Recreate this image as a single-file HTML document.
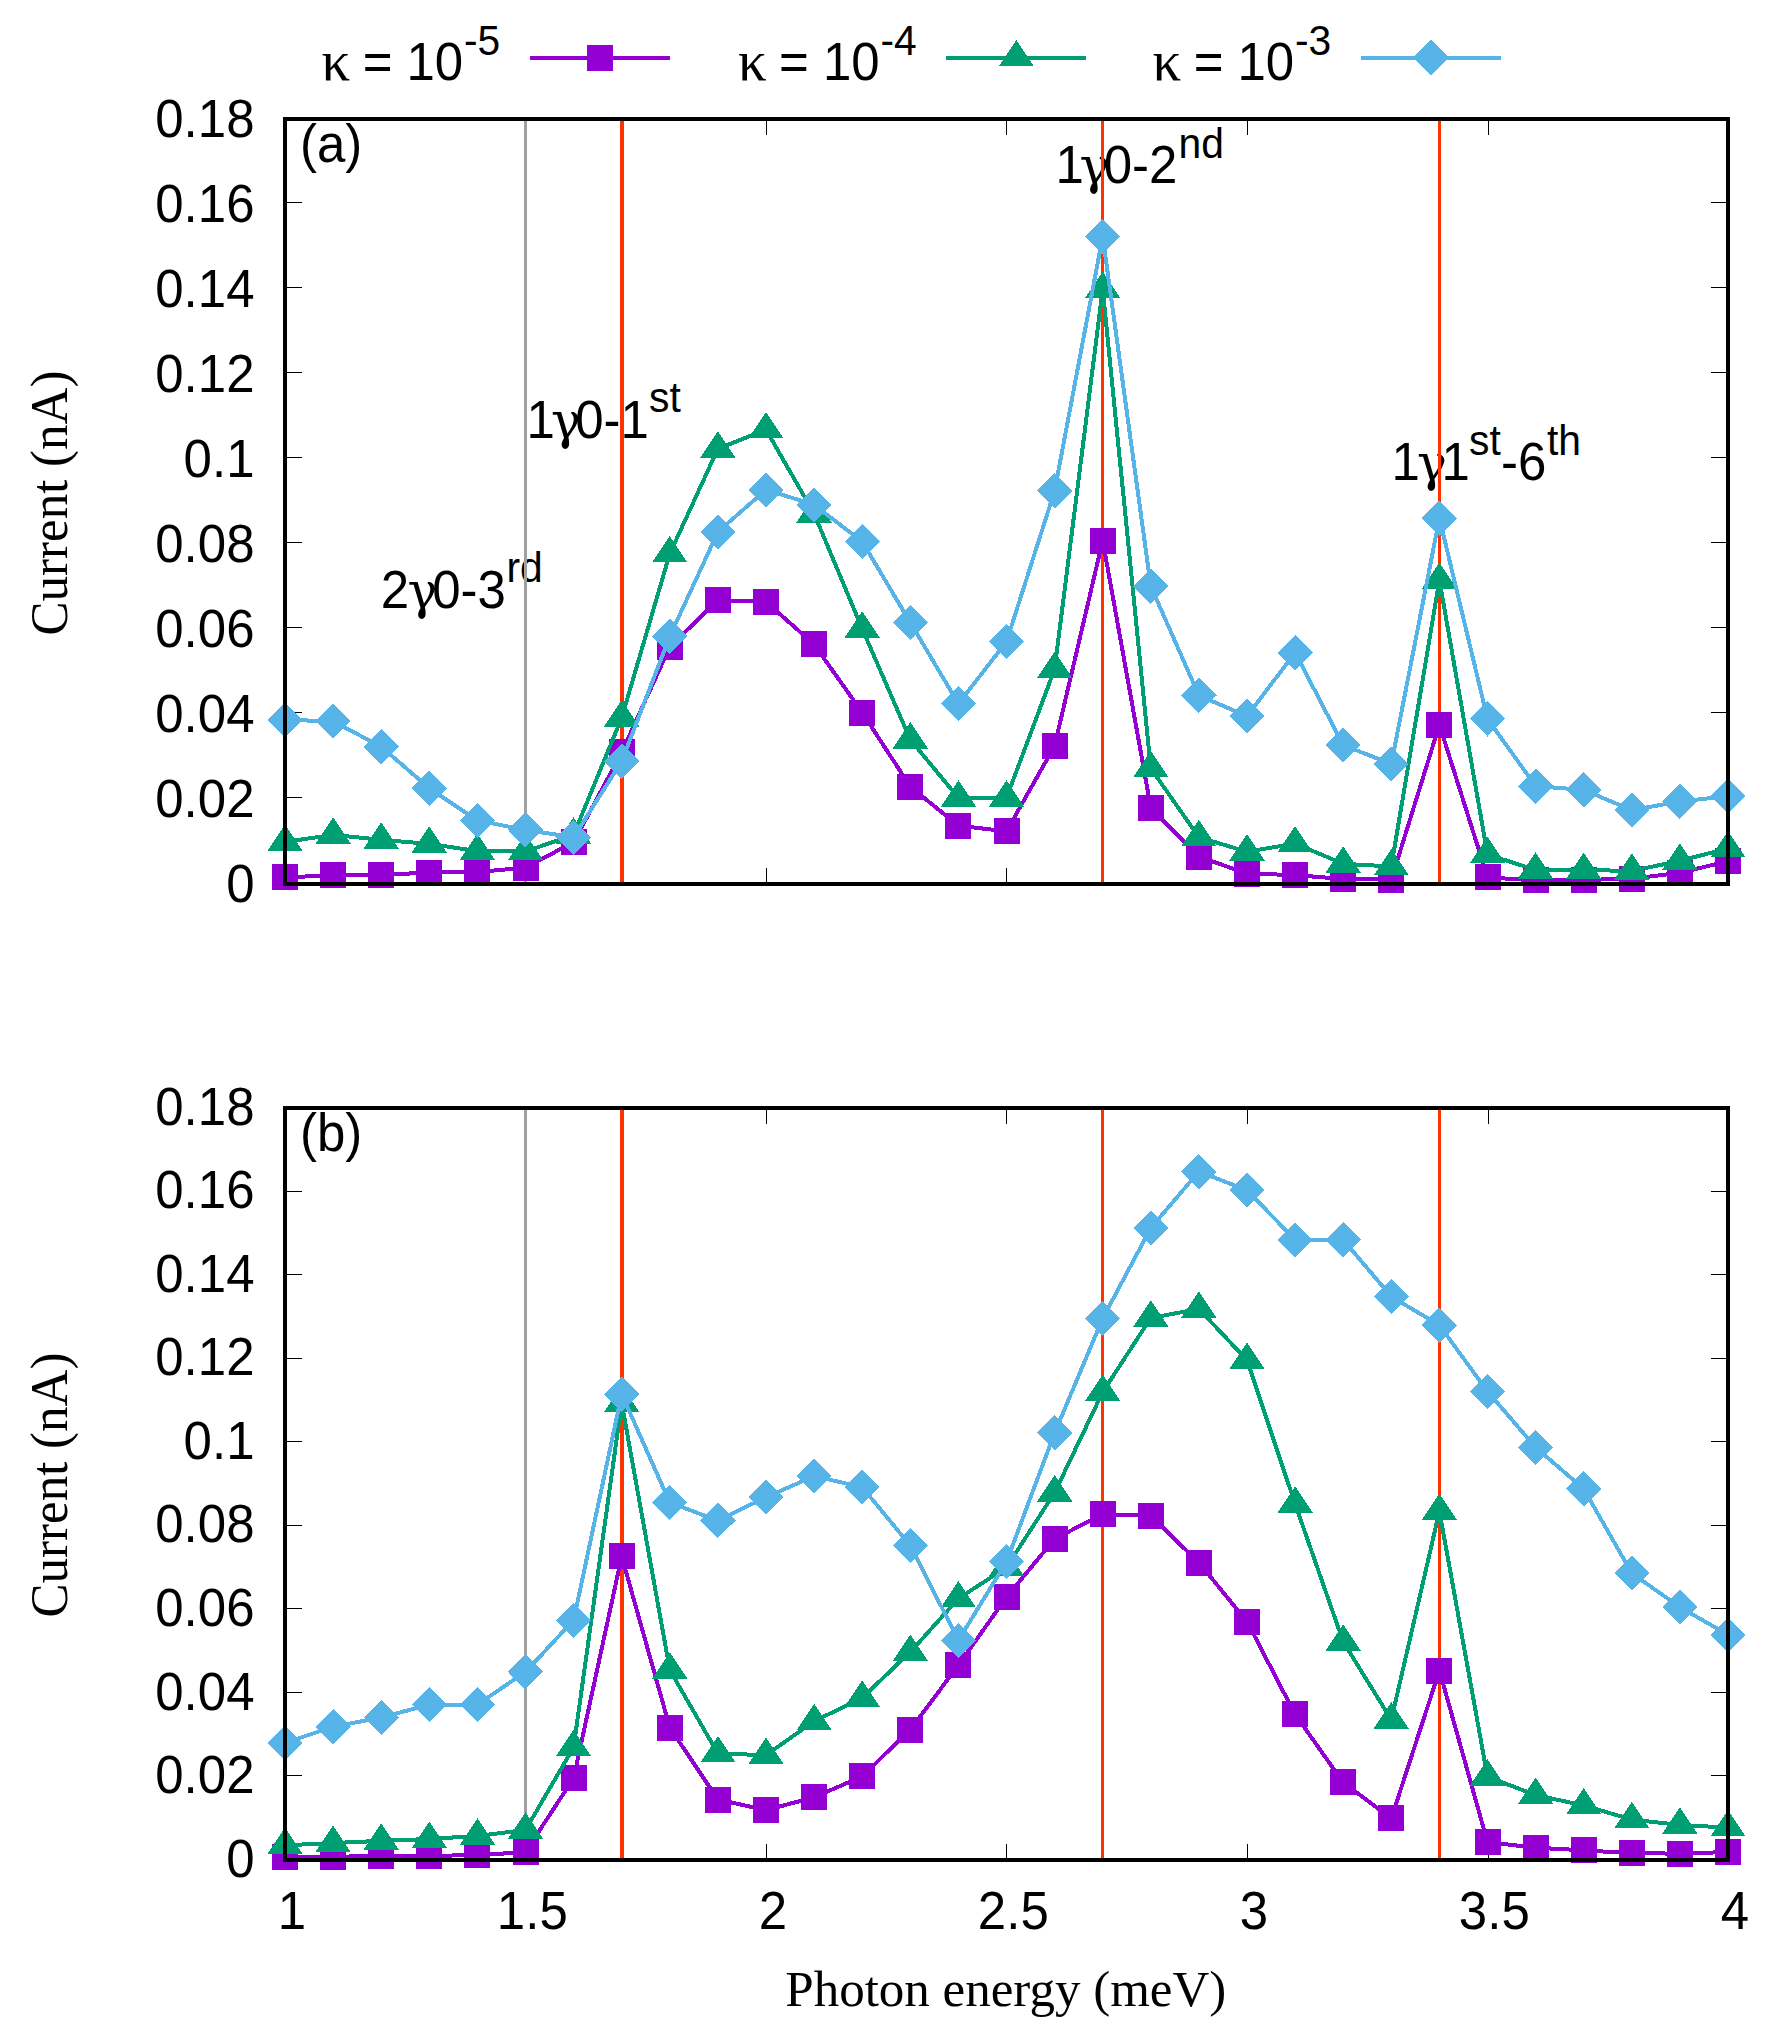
<!DOCTYPE html>
<html lang="en"><head><meta charset="utf-8"><title>Current vs photon energy</title>
<style>
html,body{margin:0;padding:0;background:#fff}
body{width:1780px;height:2040px;overflow:hidden}
svg{display:block}
text{fill:#000}
.sans{font-family:"Liberation Sans",Arial,Helvetica,sans-serif}
.kap{font-family:"Liberation Serif","DejaVu Serif",serif}
.serif{font-family:"Liberation Serif","Times New Roman",Times,serif}
.sym{font-family:"DejaVu Serif","Liberation Serif",serif}
</style></head><body>
<svg width="1780" height="2040" viewBox="0 0 1780 2040" shape-rendering="crispEdges">
<rect width="1780" height="2040" fill="#fff"/>
<text class="sans" transform="translate(380.7 608.4) scale(1 1.035)" style="font-size:51px">2</text><text class="sym" transform="translate(407.5 608.4) scale(1 1)" style="font-size:50px">γ</text><text class="sans" transform="translate(432.2 608.4) scale(1 1.035)" style="font-size:51px">0-3</text><text class="sans" transform="translate(506.5 582) scale(1 1.035)" style="font-size:40.8px">rd</text>
<text class="sans" transform="translate(526.5 437.9) scale(1 1.035)" style="font-size:51px">1</text><text class="sym" transform="translate(551 437.9) scale(1 1)" style="font-size:50px">γ</text><text class="sans" transform="translate(575.2 437.9) scale(1 1.035)" style="font-size:51px">0-1</text><text class="sans" transform="translate(649 412.4) scale(1 1.035)" style="font-size:40.8px">st</text>
<text class="sans" transform="translate(1055.5 182.9) scale(1 1.035)" style="font-size:51px">1</text><text class="sym" transform="translate(1079.5 182.9) scale(1 1)" style="font-size:50px">γ</text><text class="sans" transform="translate(1103.7 182.9) scale(1 1.035)" style="font-size:51px">0-2</text><text class="sans" transform="translate(1178.5 158) scale(1 1.035)" style="font-size:40.8px">nd</text>
<text class="sans" transform="translate(1391.5 479.8) scale(1 1.035)" style="font-size:51px">1</text><text class="sym" transform="translate(1417 479.8) scale(1 1)" style="font-size:50px">γ</text><text class="sans" transform="translate(1441.5 479.8) scale(1 1.035)" style="font-size:51px">1</text><text class="sans" transform="translate(1469 455.3) scale(1 1.035)" style="font-size:40.8px">st</text><text class="sans" transform="translate(1501 479.8) scale(1 1.035)" style="font-size:51px">-6</text><text class="sans" transform="translate(1547 455.3) scale(1 1.035)" style="font-size:40.8px">th</text>
<text class="sans" transform="translate(300 161.5) scale(1 1.035)" style="font-size:51px">(a)</text>
<g stroke="#000" stroke-width="1" fill="none"><path d="M285 797.5h17 M1728 797.5h-17"/><path d="M285 712.5h17 M1728 712.5h-17"/><path d="M285 627.5h17 M1728 627.5h-17"/><path d="M285 542.5h17 M1728 542.5h-17"/><path d="M285 457.5h17 M1728 457.5h-17"/><path d="M285 372.5h17 M1728 372.5h-17"/><path d="M285 287.5h17 M1728 287.5h-17"/><path d="M285 202.5h17 M1728 202.5h-17"/><path d="M526.5 884v-16 M526.5 119v16"/><path d="M766.5 884v-16 M766.5 119v16"/><path d="M1006.5 884v-16 M1006.5 119v16"/><path d="M1247.5 884v-16 M1247.5 119v16"/><path d="M1488.5 884v-16 M1488.5 119v16"/></g>
<g stroke="none"><rect x="524" y="119" width="3" height="765" fill="#a0a0a0"/><rect x="620" y="119" width="4" height="765" fill="#ff3300"/><rect x="1101" y="119" width="3" height="765" fill="#ff3300"/><rect x="1438" y="119" width="3" height="765" fill="#ff3300"/></g>
<g fill="#9400d3" stroke="none"><polyline points="285,877.3 333.1,875.4 381.2,874.8 429.3,872.6 477.4,872.1 525.5,867.6 573.6,842.2 621.7,752.4 669.8,646.7 717.9,600.4 766,601.8 814.1,644.4 862.2,712.5 910.3,786.7 958.4,825.7 1006.5,831.3 1054.6,745.9 1102.7,540.5 1150.8,807.8 1198.9,856.7 1247,873.5 1295.1,875.1 1343.2,879 1391.3,879.7 1439.4,724.8 1487.5,877.4 1535.6,880.4 1583.7,879.9 1631.8,878.8 1679.9,872.8 1728,861.2" fill="none" stroke="#9400d3" stroke-width="4" stroke-linejoin="miter"/><rect x="272" y="864.3" width="26" height="26"/><rect x="320.1" y="862.4" width="26" height="26"/><rect x="368.2" y="861.8" width="26" height="26"/><rect x="416.3" y="859.6" width="26" height="26"/><rect x="464.4" y="859.1" width="26" height="26"/><rect x="512.5" y="854.6" width="26" height="26"/><rect x="560.6" y="829.2" width="26" height="26"/><rect x="608.7" y="739.4" width="26" height="26"/><rect x="656.8" y="633.7" width="26" height="26"/><rect x="704.9" y="587.4" width="26" height="26"/><rect x="753" y="588.8" width="26" height="26"/><rect x="801.1" y="631.4" width="26" height="26"/><rect x="849.2" y="699.5" width="26" height="26"/><rect x="897.3" y="773.7" width="26" height="26"/><rect x="945.4" y="812.7" width="26" height="26"/><rect x="993.5" y="818.3" width="26" height="26"/><rect x="1041.6" y="732.9" width="26" height="26"/><rect x="1089.7" y="527.5" width="26" height="26"/><rect x="1137.8" y="794.8" width="26" height="26"/><rect x="1185.9" y="843.7" width="26" height="26"/><rect x="1234" y="860.5" width="26" height="26"/><rect x="1282.1" y="862.1" width="26" height="26"/><rect x="1330.2" y="866" width="26" height="26"/><rect x="1378.3" y="866.7" width="26" height="26"/><rect x="1426.4" y="711.8" width="26" height="26"/><rect x="1474.5" y="864.4" width="26" height="26"/><rect x="1522.6" y="867.4" width="26" height="26"/><rect x="1570.7" y="866.9" width="26" height="26"/><rect x="1618.8" y="865.8" width="26" height="26"/><rect x="1666.9" y="859.8" width="26" height="26"/><rect x="1715" y="848.2" width="26" height="26"/></g>
<g fill="#009e73" stroke="none"><polyline points="285,841.9 333.1,834.9 381.2,839.8 429.3,843.9 477.4,851.1 525.5,851.5 573.6,834.8 621.7,717.8 669.8,553.6 717.9,448.8 766,429.6 814.1,513.7 862.2,628.7 910.3,739.7 958.4,797.8 1006.5,797.8 1054.6,669.2 1102.7,289 1150.8,768.4 1198.9,837.2 1247,851.8 1295.1,843.5 1343.2,863.8 1391.3,866.5 1439.4,580.1 1487.5,854.5 1535.6,869.9 1583.7,869.9 1631.8,871 1679.9,860.8 1728,848.4" fill="none" stroke="#009e73" stroke-width="4" stroke-linejoin="miter"/><path d="M285 824.3L267.4 850.7H302.6Z"/><path d="M333.1 817.3L315.5 843.7H350.7Z"/><path d="M381.2 822.2L363.6 848.6H398.8Z"/><path d="M429.3 826.3L411.7 852.7H446.9Z"/><path d="M477.4 833.5L459.8 859.9H495Z"/><path d="M525.5 833.9L507.9 860.3H543.1Z"/><path d="M573.6 817.2L556 843.6H591.2Z"/><path d="M621.7 700.2L604.1 726.6H639.3Z"/><path d="M669.8 536L652.2 562.4H687.4Z"/><path d="M717.9 431.2L700.3 457.6H735.5Z"/><path d="M766 412L748.4 438.4H783.6Z"/><path d="M814.1 496.1L796.5 522.5H831.7Z"/><path d="M862.2 611.1L844.6 637.5H879.8Z"/><path d="M910.3 722.1L892.7 748.5H927.9Z"/><path d="M958.4 780.2L940.8 806.6H976Z"/><path d="M1006.5 780.2L988.9 806.6H1024.1Z"/><path d="M1054.6 651.6L1037 678H1072.2Z"/><path d="M1102.7 271.4L1085.1 297.8H1120.3Z"/><path d="M1150.8 750.8L1133.2 777.2H1168.4Z"/><path d="M1198.9 819.6L1181.3 846H1216.5Z"/><path d="M1247 834.2L1229.4 860.6H1264.6Z"/><path d="M1295.1 825.9L1277.5 852.3H1312.7Z"/><path d="M1343.2 846.2L1325.6 872.6H1360.8Z"/><path d="M1391.3 848.9L1373.7 875.3H1408.9Z"/><path d="M1439.4 562.5L1421.8 588.9H1457Z"/><path d="M1487.5 836.9L1469.9 863.3H1505.1Z"/><path d="M1535.6 852.3L1518 878.7H1553.2Z"/><path d="M1583.7 852.3L1566.1 878.7H1601.3Z"/><path d="M1631.8 853.4L1614.2 879.8H1649.4Z"/><path d="M1679.9 843.2L1662.3 869.6H1697.5Z"/><path d="M1728 830.8L1710.4 857.2H1745.6Z"/></g>
<g fill="#56b4e9" stroke="none"><polyline points="285,719.8 333.1,721.3 381.2,746.7 429.3,788.3 477.4,820.4 525.5,829.9 573.6,837.3 621.7,761.3 669.8,636.3 717.9,531.9 766,489.7 814.1,504.8 862.2,541.6 910.3,622.5 958.4,703.7 1006.5,641.7 1054.6,491 1102.7,236.4 1150.8,586.3 1198.9,695.5 1247,716.2 1295.1,652.6 1343.2,745.1 1391.3,764 1439.4,518.2 1487.5,718.9 1535.6,786.1 1583.7,789.9 1631.8,810.2 1679.9,801.4 1728,796.3" fill="none" stroke="#56b4e9" stroke-width="4" stroke-linejoin="miter"/><path d="M267.4 719.8L285 737.4L302.6 719.8L285 702.2Z"/><path d="M315.5 721.3L333.1 738.9L350.7 721.3L333.1 703.7Z"/><path d="M363.6 746.7L381.2 764.3L398.8 746.7L381.2 729.1Z"/><path d="M411.7 788.3L429.3 805.9L446.9 788.3L429.3 770.7Z"/><path d="M459.8 820.4L477.4 838L495 820.4L477.4 802.8Z"/><path d="M507.9 829.9L525.5 847.5L543.1 829.9L525.5 812.3Z"/><path d="M556 837.3L573.6 854.9L591.2 837.3L573.6 819.7Z"/><path d="M604.1 761.3L621.7 778.9L639.3 761.3L621.7 743.7Z"/><path d="M652.2 636.3L669.8 653.9L687.4 636.3L669.8 618.7Z"/><path d="M700.3 531.9L717.9 549.5L735.5 531.9L717.9 514.3Z"/><path d="M748.4 489.7L766 507.3L783.6 489.7L766 472.1Z"/><path d="M796.5 504.8L814.1 522.4L831.7 504.8L814.1 487.2Z"/><path d="M844.6 541.6L862.2 559.2L879.8 541.6L862.2 524Z"/><path d="M892.7 622.5L910.3 640.1L927.9 622.5L910.3 604.9Z"/><path d="M940.8 703.7L958.4 721.3L976 703.7L958.4 686.1Z"/><path d="M988.9 641.7L1006.5 659.3L1024.1 641.7L1006.5 624.1Z"/><path d="M1037 491L1054.6 508.6L1072.2 491L1054.6 473.4Z"/><path d="M1085.1 236.4L1102.7 254L1120.3 236.4L1102.7 218.8Z"/><path d="M1133.2 586.3L1150.8 603.9L1168.4 586.3L1150.8 568.7Z"/><path d="M1181.3 695.5L1198.9 713.1L1216.5 695.5L1198.9 677.9Z"/><path d="M1229.4 716.2L1247 733.8L1264.6 716.2L1247 698.6Z"/><path d="M1277.5 652.6L1295.1 670.2L1312.7 652.6L1295.1 635Z"/><path d="M1325.6 745.1L1343.2 762.7L1360.8 745.1L1343.2 727.5Z"/><path d="M1373.7 764L1391.3 781.6L1408.9 764L1391.3 746.4Z"/><path d="M1421.8 518.2L1439.4 535.8L1457 518.2L1439.4 500.6Z"/><path d="M1469.9 718.9L1487.5 736.5L1505.1 718.9L1487.5 701.3Z"/><path d="M1518 786.1L1535.6 803.7L1553.2 786.1L1535.6 768.5Z"/><path d="M1566.1 789.9L1583.7 807.5L1601.3 789.9L1583.7 772.3Z"/><path d="M1614.2 810.2L1631.8 827.8L1649.4 810.2L1631.8 792.6Z"/><path d="M1662.3 801.4L1679.9 819L1697.5 801.4L1679.9 783.8Z"/><path d="M1710.4 796.3L1728 813.9L1745.6 796.3L1728 778.7Z"/></g>
<rect x="285" y="119" width="1443" height="765" fill="none" stroke="#000" stroke-width="4"/>
<text class="sans" transform="translate(300 1151) scale(1 1.035)" style="font-size:51px">(b)</text>
<g stroke="#000" stroke-width="1" fill="none"><path d="M285 1775.5h17 M1728 1775.5h-17"/><path d="M285 1692.5h17 M1728 1692.5h-17"/><path d="M285 1608.5h17 M1728 1608.5h-17"/><path d="M285 1525.5h17 M1728 1525.5h-17"/><path d="M285 1441.5h17 M1728 1441.5h-17"/><path d="M285 1358.5h17 M1728 1358.5h-17"/><path d="M285 1274.5h17 M1728 1274.5h-17"/><path d="M285 1191.5h17 M1728 1191.5h-17"/><path d="M526.5 1860v-16 M526.5 1108v16"/><path d="M766.5 1860v-16 M766.5 1108v16"/><path d="M1006.5 1860v-16 M1006.5 1108v16"/><path d="M1247.5 1860v-16 M1247.5 1108v16"/><path d="M1488.5 1860v-16 M1488.5 1108v16"/></g>
<g stroke="none"><rect x="524" y="1108" width="3" height="752" fill="#a0a0a0"/><rect x="620" y="1108" width="4" height="752" fill="#ff3300"/><rect x="1101" y="1108" width="3" height="752" fill="#ff3300"/><rect x="1438" y="1108" width="3" height="752" fill="#ff3300"/></g>
<g fill="#9400d3" stroke="none"><polyline points="285,1856.9 333.1,1856.9 381.2,1855.7 429.3,1855.7 477.4,1855.3 525.5,1852 573.6,1778.2 621.7,1556.4 669.8,1727.6 717.9,1799.5 766,1810.1 814.1,1797.3 862.2,1776.4 910.3,1729.5 958.4,1665.3 1006.5,1597.1 1054.6,1538.9 1102.7,1514.3 1150.8,1515.8 1198.9,1562.7 1247,1621.5 1295.1,1714.4 1343.2,1782.4 1391.3,1818.4 1439.4,1670.5 1487.5,1842.2 1535.6,1847.7 1583.7,1850.3 1631.8,1853.3 1679.9,1853.6 1728,1852" fill="none" stroke="#9400d3" stroke-width="4" stroke-linejoin="miter"/><rect x="272" y="1843.9" width="26" height="26"/><rect x="320.1" y="1843.9" width="26" height="26"/><rect x="368.2" y="1842.7" width="26" height="26"/><rect x="416.3" y="1842.7" width="26" height="26"/><rect x="464.4" y="1842.3" width="26" height="26"/><rect x="512.5" y="1839" width="26" height="26"/><rect x="560.6" y="1765.2" width="26" height="26"/><rect x="608.7" y="1543.4" width="26" height="26"/><rect x="656.8" y="1714.6" width="26" height="26"/><rect x="704.9" y="1786.5" width="26" height="26"/><rect x="753" y="1797.1" width="26" height="26"/><rect x="801.1" y="1784.3" width="26" height="26"/><rect x="849.2" y="1763.4" width="26" height="26"/><rect x="897.3" y="1716.5" width="26" height="26"/><rect x="945.4" y="1652.3" width="26" height="26"/><rect x="993.5" y="1584.1" width="26" height="26"/><rect x="1041.6" y="1525.9" width="26" height="26"/><rect x="1089.7" y="1501.3" width="26" height="26"/><rect x="1137.8" y="1502.8" width="26" height="26"/><rect x="1185.9" y="1549.7" width="26" height="26"/><rect x="1234" y="1608.5" width="26" height="26"/><rect x="1282.1" y="1701.4" width="26" height="26"/><rect x="1330.2" y="1769.4" width="26" height="26"/><rect x="1378.3" y="1805.4" width="26" height="26"/><rect x="1426.4" y="1657.5" width="26" height="26"/><rect x="1474.5" y="1829.2" width="26" height="26"/><rect x="1522.6" y="1834.7" width="26" height="26"/><rect x="1570.7" y="1837.3" width="26" height="26"/><rect x="1618.8" y="1840.3" width="26" height="26"/><rect x="1666.9" y="1840.6" width="26" height="26"/><rect x="1715" y="1839" width="26" height="26"/></g>
<g fill="#009e73" stroke="none"><polyline points="285,1845.3 333.1,1843.1 381.2,1840.8 429.3,1839 477.4,1835.9 525.5,1830 573.6,1747.3 621.7,1402.9 669.8,1670 717.9,1753.6 766,1755.1 814.1,1721.3 862.2,1697.8 910.3,1652.1 958.4,1598.6 1006.5,1567.3 1054.6,1492.7 1102.7,1392.1 1150.8,1317.9 1198.9,1309 1247,1360.1 1295.1,1503.9 1343.2,1641.7 1391.3,1719.8 1439.4,1511.2 1487.5,1776.8 1535.6,1795 1583.7,1805.5 1631.8,1819.5 1679.9,1825 1728,1827.6" fill="none" stroke="#009e73" stroke-width="4" stroke-linejoin="miter"/><path d="M285 1827.7L267.4 1854.1H302.6Z"/><path d="M333.1 1825.5L315.5 1851.9H350.7Z"/><path d="M381.2 1823.2L363.6 1849.6H398.8Z"/><path d="M429.3 1821.4L411.7 1847.8H446.9Z"/><path d="M477.4 1818.3L459.8 1844.7H495Z"/><path d="M525.5 1812.4L507.9 1838.8H543.1Z"/><path d="M573.6 1729.7L556 1756.1H591.2Z"/><path d="M621.7 1385.3L604.1 1411.7H639.3Z"/><path d="M669.8 1652.4L652.2 1678.8H687.4Z"/><path d="M717.9 1736L700.3 1762.4H735.5Z"/><path d="M766 1737.5L748.4 1763.9H783.6Z"/><path d="M814.1 1703.7L796.5 1730.1H831.7Z"/><path d="M862.2 1680.2L844.6 1706.6H879.8Z"/><path d="M910.3 1634.5L892.7 1660.9H927.9Z"/><path d="M958.4 1581L940.8 1607.4H976Z"/><path d="M1006.5 1549.7L988.9 1576.1H1024.1Z"/><path d="M1054.6 1475.1L1037 1501.5H1072.2Z"/><path d="M1102.7 1374.5L1085.1 1400.9H1120.3Z"/><path d="M1150.8 1300.3L1133.2 1326.7H1168.4Z"/><path d="M1198.9 1291.4L1181.3 1317.8H1216.5Z"/><path d="M1247 1342.5L1229.4 1368.9H1264.6Z"/><path d="M1295.1 1486.3L1277.5 1512.7H1312.7Z"/><path d="M1343.2 1624.1L1325.6 1650.5H1360.8Z"/><path d="M1391.3 1702.2L1373.7 1728.6H1408.9Z"/><path d="M1439.4 1493.6L1421.8 1520H1457Z"/><path d="M1487.5 1759.2L1469.9 1785.6H1505.1Z"/><path d="M1535.6 1777.4L1518 1803.8H1553.2Z"/><path d="M1583.7 1787.9L1566.1 1814.3H1601.3Z"/><path d="M1631.8 1801.9L1614.2 1828.3H1649.4Z"/><path d="M1679.9 1807.4L1662.3 1833.8H1697.5Z"/><path d="M1728 1810L1710.4 1836.4H1745.6Z"/></g>
<g fill="#56b4e9" stroke="none"><polyline points="285,1742.9 333.1,1726.7 381.2,1717.6 429.3,1704.6 477.4,1704.6 525.5,1671.9 573.6,1620.3 621.7,1394.2 669.8,1502.6 717.9,1520.5 766,1497.2 814.1,1476.1 862.2,1487.2 910.3,1545.5 958.4,1640.3 1006.5,1561.7 1054.6,1433 1102.7,1318.4 1150.8,1227.9 1198.9,1171.6 1247,1190.2 1295.1,1239.8 1343.2,1239.8 1391.3,1296.6 1439.4,1325.2 1487.5,1391.5 1535.6,1447.3 1583.7,1488.9 1631.8,1573.2 1679.9,1607.2 1728,1634.7" fill="none" stroke="#56b4e9" stroke-width="4" stroke-linejoin="miter"/><path d="M267.4 1742.9L285 1760.5L302.6 1742.9L285 1725.3Z"/><path d="M315.5 1726.7L333.1 1744.3L350.7 1726.7L333.1 1709.1Z"/><path d="M363.6 1717.6L381.2 1735.2L398.8 1717.6L381.2 1700Z"/><path d="M411.7 1704.6L429.3 1722.2L446.9 1704.6L429.3 1687Z"/><path d="M459.8 1704.6L477.4 1722.2L495 1704.6L477.4 1687Z"/><path d="M507.9 1671.9L525.5 1689.5L543.1 1671.9L525.5 1654.3Z"/><path d="M556 1620.3L573.6 1637.9L591.2 1620.3L573.6 1602.7Z"/><path d="M604.1 1394.2L621.7 1411.8L639.3 1394.2L621.7 1376.6Z"/><path d="M652.2 1502.6L669.8 1520.2L687.4 1502.6L669.8 1485Z"/><path d="M700.3 1520.5L717.9 1538.1L735.5 1520.5L717.9 1502.9Z"/><path d="M748.4 1497.2L766 1514.8L783.6 1497.2L766 1479.6Z"/><path d="M796.5 1476.1L814.1 1493.7L831.7 1476.1L814.1 1458.5Z"/><path d="M844.6 1487.2L862.2 1504.8L879.8 1487.2L862.2 1469.6Z"/><path d="M892.7 1545.5L910.3 1563.1L927.9 1545.5L910.3 1527.9Z"/><path d="M940.8 1640.3L958.4 1657.9L976 1640.3L958.4 1622.7Z"/><path d="M988.9 1561.7L1006.5 1579.3L1024.1 1561.7L1006.5 1544.1Z"/><path d="M1037 1433L1054.6 1450.6L1072.2 1433L1054.6 1415.4Z"/><path d="M1085.1 1318.4L1102.7 1336L1120.3 1318.4L1102.7 1300.8Z"/><path d="M1133.2 1227.9L1150.8 1245.5L1168.4 1227.9L1150.8 1210.3Z"/><path d="M1181.3 1171.6L1198.9 1189.2L1216.5 1171.6L1198.9 1154Z"/><path d="M1229.4 1190.2L1247 1207.8L1264.6 1190.2L1247 1172.6Z"/><path d="M1277.5 1239.8L1295.1 1257.4L1312.7 1239.8L1295.1 1222.2Z"/><path d="M1325.6 1239.8L1343.2 1257.4L1360.8 1239.8L1343.2 1222.2Z"/><path d="M1373.7 1296.6L1391.3 1314.2L1408.9 1296.6L1391.3 1279Z"/><path d="M1421.8 1325.2L1439.4 1342.8L1457 1325.2L1439.4 1307.6Z"/><path d="M1469.9 1391.5L1487.5 1409.1L1505.1 1391.5L1487.5 1373.9Z"/><path d="M1518 1447.3L1535.6 1464.9L1553.2 1447.3L1535.6 1429.7Z"/><path d="M1566.1 1488.9L1583.7 1506.5L1601.3 1488.9L1583.7 1471.3Z"/><path d="M1614.2 1573.2L1631.8 1590.8L1649.4 1573.2L1631.8 1555.6Z"/><path d="M1662.3 1607.2L1679.9 1624.8L1697.5 1607.2L1679.9 1589.6Z"/><path d="M1710.4 1634.7L1728 1652.3L1745.6 1634.7L1728 1617.1Z"/></g>
<rect x="285" y="1108" width="1443" height="752" fill="none" stroke="#000" stroke-width="4"/>
<g><text class="sans" transform="translate(254.5 901.6) scale(1 1.035)" style="font-size:51px" text-anchor="end">0</text><text class="sans" transform="translate(254.5 816.6) scale(1 1.035)" style="font-size:51px" text-anchor="end">0.02</text><text class="sans" transform="translate(254.5 731.6) scale(1 1.035)" style="font-size:51px" text-anchor="end">0.04</text><text class="sans" transform="translate(254.5 646.6) scale(1 1.035)" style="font-size:51px" text-anchor="end">0.06</text><text class="sans" transform="translate(254.5 561.6) scale(1 1.035)" style="font-size:51px" text-anchor="end">0.08</text><text class="sans" transform="translate(254.5 476.6) scale(1 1.035)" style="font-size:51px" text-anchor="end">0.1</text><text class="sans" transform="translate(254.5 391.6) scale(1 1.035)" style="font-size:51px" text-anchor="end">0.12</text><text class="sans" transform="translate(254.5 306.6) scale(1 1.035)" style="font-size:51px" text-anchor="end">0.14</text><text class="sans" transform="translate(254.5 221.6) scale(1 1.035)" style="font-size:51px" text-anchor="end">0.16</text><text class="sans" transform="translate(254.5 136.6) scale(1 1.035)" style="font-size:51px" text-anchor="end">0.18</text></g>
<g><text class="sans" transform="translate(254.5 1876.6) scale(1 1.035)" style="font-size:51px" text-anchor="end">0</text><text class="sans" transform="translate(254.5 1793) scale(1 1.035)" style="font-size:51px" text-anchor="end">0.02</text><text class="sans" transform="translate(254.5 1709.5) scale(1 1.035)" style="font-size:51px" text-anchor="end">0.04</text><text class="sans" transform="translate(254.5 1625.9) scale(1 1.035)" style="font-size:51px" text-anchor="end">0.06</text><text class="sans" transform="translate(254.5 1542.4) scale(1 1.035)" style="font-size:51px" text-anchor="end">0.08</text><text class="sans" transform="translate(254.5 1458.8) scale(1 1.035)" style="font-size:51px" text-anchor="end">0.1</text><text class="sans" transform="translate(254.5 1375.3) scale(1 1.035)" style="font-size:51px" text-anchor="end">0.12</text><text class="sans" transform="translate(254.5 1291.7) scale(1 1.035)" style="font-size:51px" text-anchor="end">0.14</text><text class="sans" transform="translate(254.5 1208.2) scale(1 1.035)" style="font-size:51px" text-anchor="end">0.16</text><text class="sans" transform="translate(254.5 1124.6) scale(1 1.035)" style="font-size:51px" text-anchor="end">0.18</text></g>
<g><text class="sans" transform="translate(291.8 1929) scale(1 1.035)" style="font-size:51px" text-anchor="middle">1</text><text class="sans" transform="translate(532.3 1929) scale(1 1.035)" style="font-size:51px" text-anchor="middle">1.5</text><text class="sans" transform="translate(772.8 1929) scale(1 1.035)" style="font-size:51px" text-anchor="middle">2</text><text class="sans" transform="translate(1013.3 1929) scale(1 1.035)" style="font-size:51px" text-anchor="middle">2.5</text><text class="sans" transform="translate(1253.8 1929) scale(1 1.035)" style="font-size:51px" text-anchor="middle">3</text><text class="sans" transform="translate(1494.3 1929) scale(1 1.035)" style="font-size:51px" text-anchor="middle">3.5</text><text class="sans" transform="translate(1734.8 1929) scale(1 1.035)" style="font-size:51px" text-anchor="middle">4</text></g>
<text class="serif" x="1005.8" y="2005.5" text-anchor="middle" style="font-size:51px">Photon energy (meV)</text>
<text class="serif" transform="translate(67.2 503) rotate(-90) scale(1 1.04)" text-anchor="middle" style="font-size:51px">Current (nA)</text>
<text class="serif" transform="translate(67.2 1485) rotate(-90) scale(1 1.04)" text-anchor="middle" style="font-size:51px">Current (nA)</text>
<text class="kap" transform="translate(321.5 80) scale(1 1)" style="font-size:57px">κ</text><text class="sans" transform="translate(362.7 80) scale(1 1.035)" style="font-size:51px">=</text><text class="sans" transform="translate(406.5 80) scale(1 1.035)" style="font-size:51px">10</text><text class="sans" transform="translate(464 54.6) scale(1 1.035)" style="font-size:40.8px">-5</text><g fill="#9400d3"><path d="M530 57.5H670" stroke="#9400d3" stroke-width="4" fill="none"/><rect x="587" y="44.5" width="26" height="26"/></g>
<text class="kap" transform="translate(737.9 80) scale(1 1)" style="font-size:57px">κ</text><text class="sans" transform="translate(779.1 80) scale(1 1.035)" style="font-size:51px">=</text><text class="sans" transform="translate(822.9 80) scale(1 1.035)" style="font-size:51px">10</text><text class="sans" transform="translate(880.4 54.6) scale(1 1.035)" style="font-size:40.8px">-4</text><g fill="#009e73"><path d="M946.4 57.5H1086.4" stroke="#009e73" stroke-width="4" fill="none"/><path d="M1016.4 39.9L998.8 66.3H1034Z"/></g>
<text class="kap" transform="translate(1152.5 80) scale(1 1)" style="font-size:57px">κ</text><text class="sans" transform="translate(1193.7 80) scale(1 1.035)" style="font-size:51px">=</text><text class="sans" transform="translate(1237.5 80) scale(1 1.035)" style="font-size:51px">10</text><text class="sans" transform="translate(1295 54.6) scale(1 1.035)" style="font-size:40.8px">-3</text><g fill="#56b4e9"><path d="M1361 57.5H1501" stroke="#56b4e9" stroke-width="4" fill="none"/><path d="M1413.4 57.5L1431 75.1L1448.6 57.5L1431 39.9Z"/></g>
</svg>
</body></html>
